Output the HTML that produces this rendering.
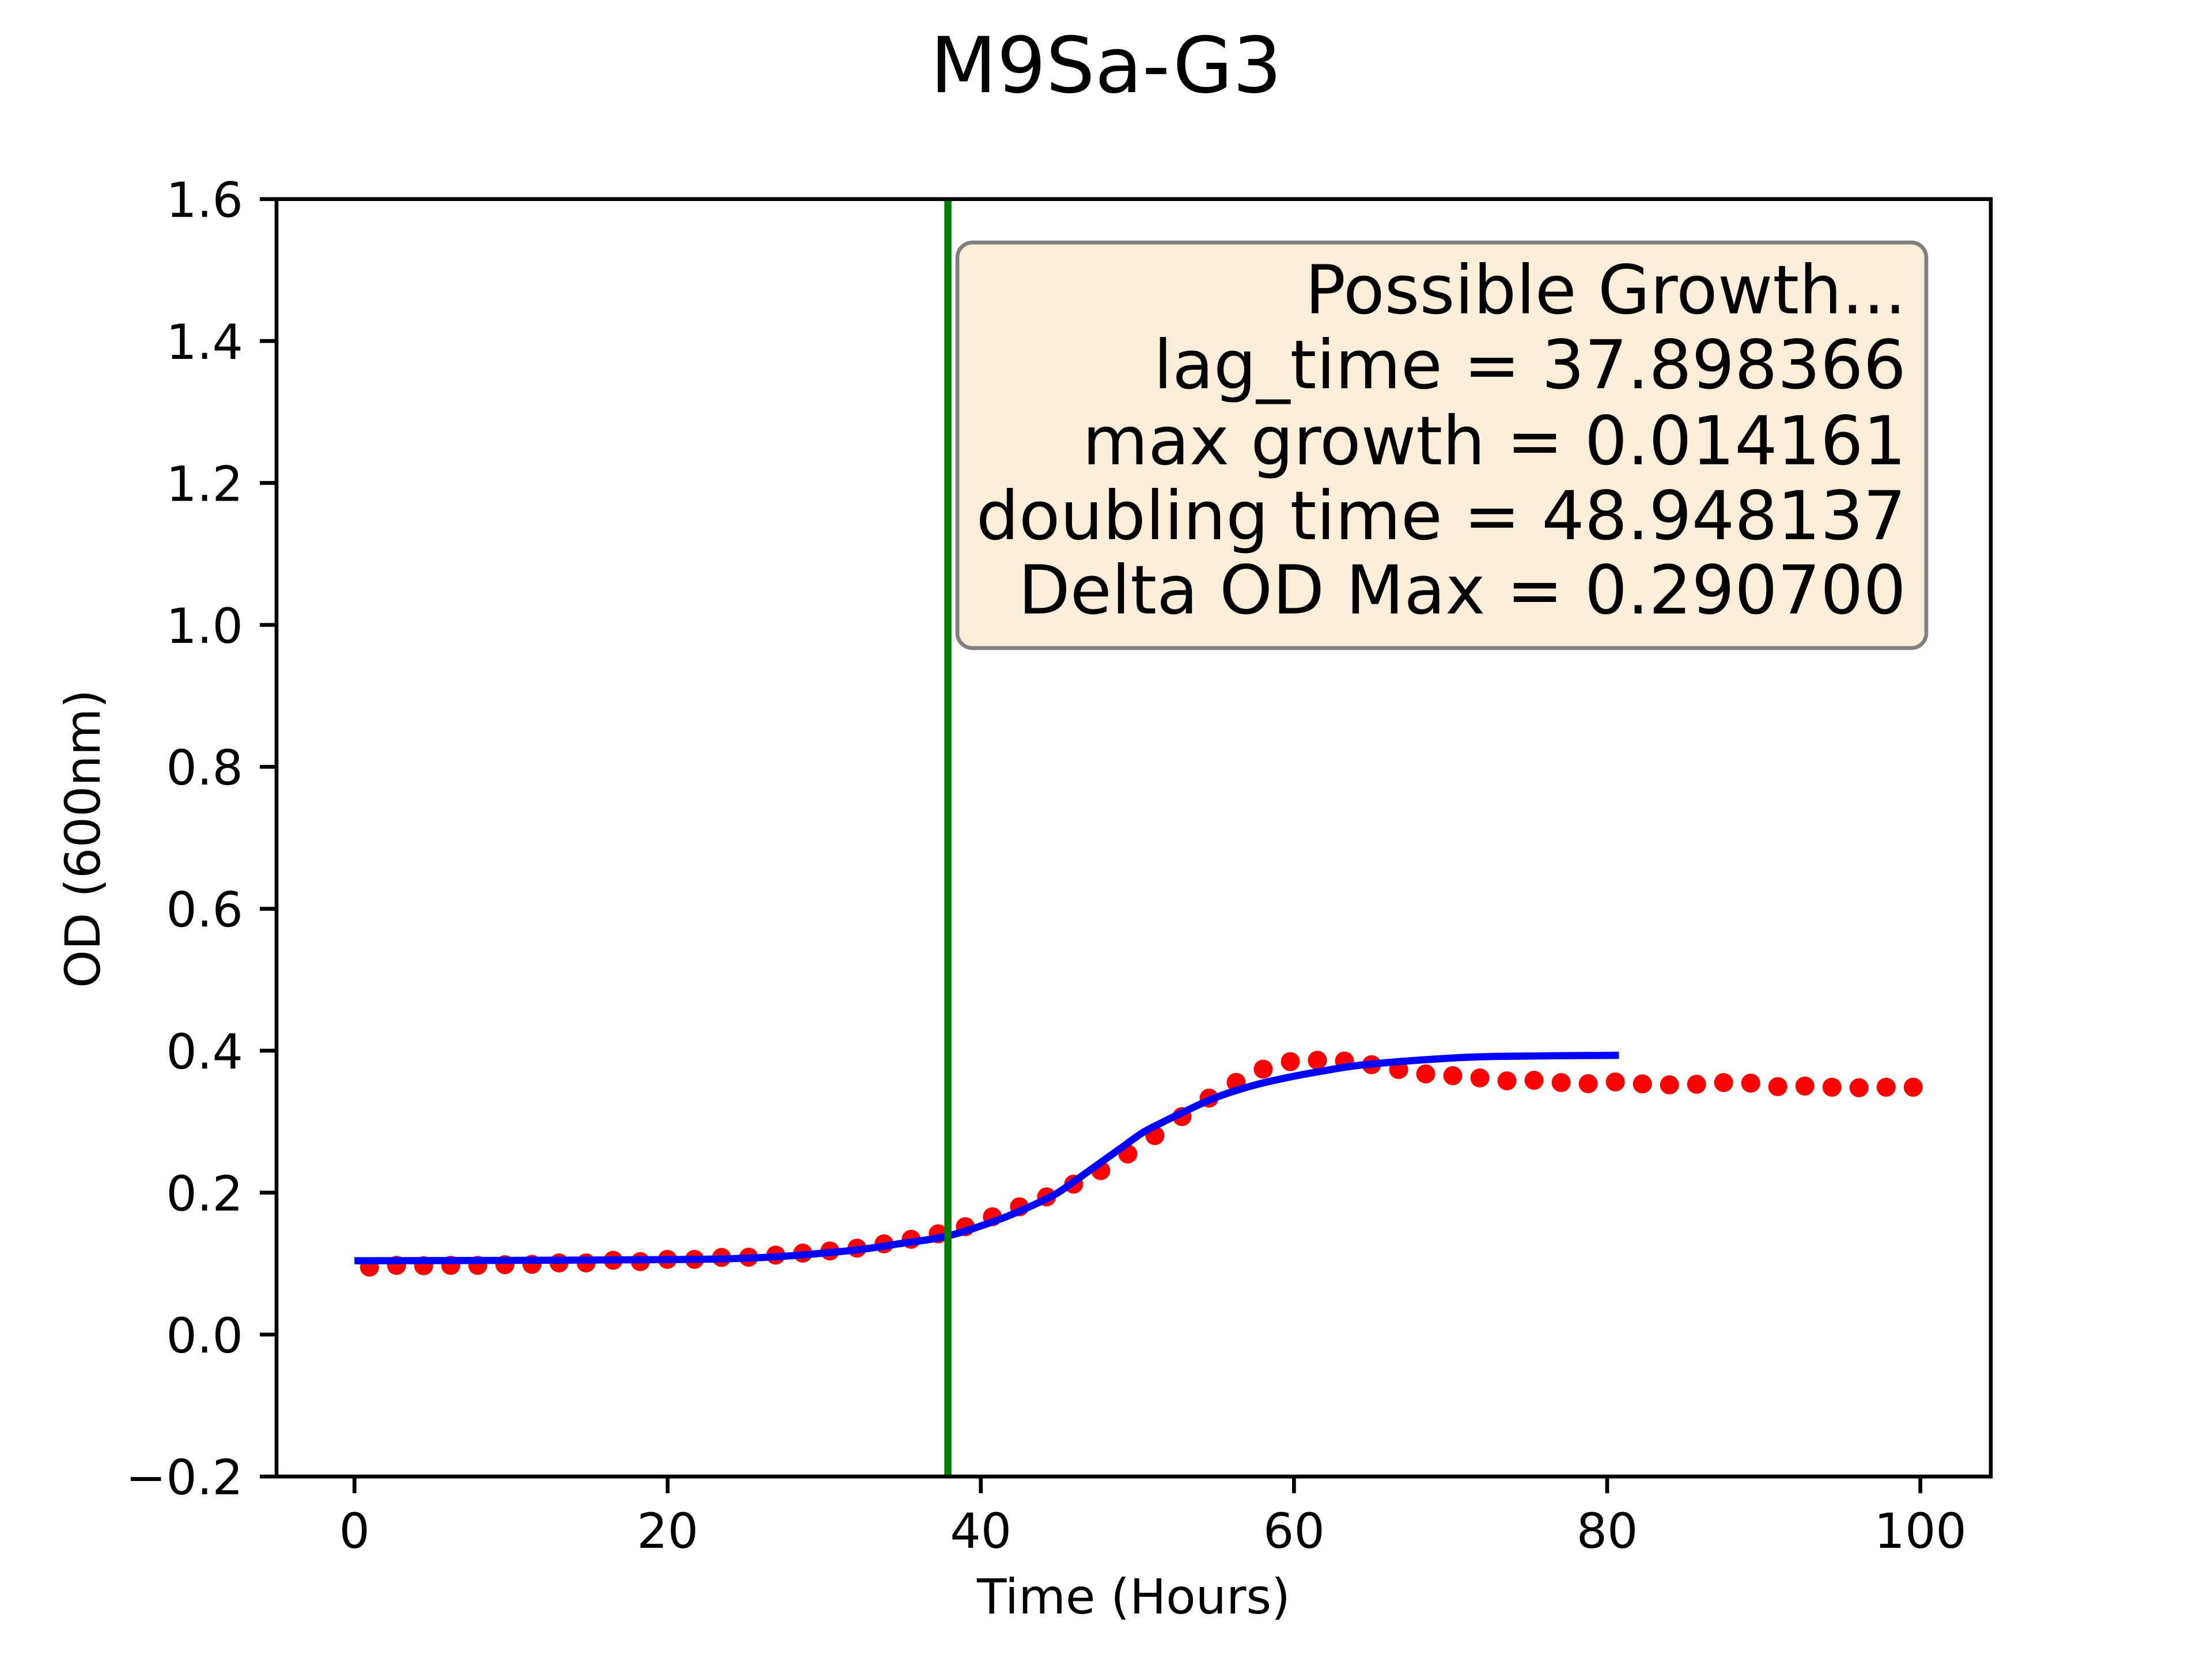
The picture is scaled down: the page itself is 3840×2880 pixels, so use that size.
<!DOCTYPE html>
<html><head><meta charset="utf-8"><style>
html,body{margin:0;padding:0;background:#fff}
svg{display:block}
text{font-family:"DejaVu Sans","Liberation Sans",sans-serif;fill:#000}
</style></head><body>
<svg id="chart" xmlns="http://www.w3.org/2000/svg" width="3840" height="2880" viewBox="0 0 3840 2880">
<rect x="0" y="0" width="3840" height="2880" fill="#fff"/>
<text x="1920" y="160" font-size="134" text-anchor="middle">M9Sa-G3</text>
<g id="plot"></g>
<g id="xticks"></g>
<g id="yticks"></g>
<text x="1968" y="2801" font-size="84" text-anchor="middle">Time (Hours)</text>
<text x="173" y="1456" font-size="84" text-anchor="middle" transform="rotate(-90 173 1456)">OD (600nm)</text>
<g>
<rect x="1662" y="421" width="1682" height="704" rx="26" ry="26" fill="#faeed9" stroke="#808080" stroke-width="6.7"/>
<text x="3309" y="544" font-size="117" text-anchor="end">Possible Growth...</text>
<text x="3309" y="674" font-size="117" text-anchor="end">lag_time = 37.898366</text>
<text x="3309" y="806" font-size="117" text-anchor="end">max growth = 0.014161</text>
<text x="3309" y="936" font-size="117" text-anchor="end">doubling time = 48.948137</text>
<text x="3309" y="1065" font-size="117" text-anchor="end">Delta OD Max = 0.290700</text>
</g>
</svg>
<script>
const odValues = [0.095,0.0975,0.097,0.0975,0.0975,0.0985,0.099,0.101,0.101,0.1047,0.1028,0.106,0.106,0.1087,0.109,0.112,0.1148,0.1178,0.1218,0.1278,0.1343,0.142,0.152,0.166,0.18,0.194,0.212,0.231,0.2545,0.2804,0.3072,0.3332,0.3554,0.374,0.3846,0.3865,0.3854,0.3803,0.3735,0.3673,0.3648,0.3616,0.3575,0.3583,0.3551,0.3535,0.356,0.3532,0.3519,0.3527,0.3551,0.3543,0.3494,0.3502,0.3486,0.3478,0.3486,0.3486];
const firstHour = 0.96;
const hourStep = 1.7296;
const fitHours = [0,15,25,31.5,34.8,37.9,40.9,42.8,44.7,46.1,47.5,48.9,50.3,51.5,52.7,55,57.4,59.7,62,64.4,69.1,73,80.75];
const fitValues = [0.104,0.105,0.1076,0.118,0.128,0.139,0.160,0.177,0.197,0.218,0.240,0.262,0.284,0.298,0.311,0.334,0.351,0.3627,0.372,0.380,0.3883,0.392,0.3935];
const lagTime = 37.898366;
const xTicks = [0,20,40,60,80,100];
const yTicks = [-0.2,0.0,0.2,0.4,0.6,0.8,1.0,1.2,1.4,1.6];
const yTickLabels = ["\u22120.2","0.0","0.2","0.4","0.6","0.8","1.0","1.2","1.4","1.6"];

const L=480,R=3456,T=345.6,B=2563.2;
const XMIN=-4.98,XMAX=104.5,YMIN=-0.2,YMAX=1.6;
const sx=v=>L+(v-XMIN)/(XMAX-XMIN)*(R-L);
const sy=v=>B-(v-YMIN)/(YMAX-YMIN)*(B-T);
const NS="http://www.w3.org/2000/svg";
function mk(tag,attrs,parent){const e=document.createElementNS(NS,tag);for(const k in attrs)e.setAttribute(k,attrs[k]);parent.appendChild(e);return e;}
const plot=document.getElementById('plot');
const xg=document.getElementById('xticks');
const yg=document.getElementById('yticks');

const defs=mk('defs',{},plot);
const cp=mk('clipPath',{id:'clip'},defs);
mk('rect',{x:L,y:T,width:R-L,height:B-T},cp);
const inner=mk('g',{'clip-path':'url(#clip)'},plot);



odValues.forEach((v,i)=>{
  const c=mk('circle',{cx:sx(firstHour+i*hourStep),cy:sy(v),r:16.5,fill:'#ff0000'},inner);
  
  
});

const pts=fitHours.map((h,i)=>[sx(h),sy(fitValues[i])]);
let d='M'+pts[0][0]+','+pts[0][1];
for(let i=0;i<pts.length-1;i++){
  const p0=pts[Math.max(0,i-1)],p1=pts[i],p2=pts[i+1],p3=pts[Math.min(pts.length-1,i+2)];
  const c1=[p1[0]+(p2[0]-p0[0])/6,p1[1]+(p2[1]-p0[1])/6];
  const c2=[p2[0]-(p3[0]-p1[0])/6,p2[1]-(p3[1]-p1[1])/6];
  d+=' C'+c1[0]+','+c1[1]+' '+c2[0]+','+c2[1]+' '+p2[0]+','+p2[1];
}
const fit=mk('path',{d:d,fill:'none',stroke:'#0000ff','stroke-width':12.5},inner);



const lag=mk('line',{x1:sx(lagTime),x2:sx(lagTime),y1:T,y2:B,stroke:'#008000','stroke-width':12.5},inner);



const fr=mk('rect',{x:L,y:T,width:R-L,height:B-T,fill:'none',stroke:'#000','stroke-width':6.7},plot);



xTicks.forEach(t=>{
  const x=sx(t);
  const ln=mk('line',{x1:x,x2:x,y1:B,y2:B+29,stroke:'#000','stroke-width':6.7},xg);
  
  
  const tx=mk('text',{x:x,y:2687,'font-size':84,'text-anchor':'middle'},xg);
  tx.textContent=String(t);
  
  
});
yTicks.forEach((t,i)=>{
  const y=sy(t);
  const ln=mk('line',{x1:L-29,x2:L,y1:y,y2:y,stroke:'#000','stroke-width':6.7},yg);
  
  
  const tx=mk('text',{x:422,y:y+31,'font-size':84,'text-anchor':'end'},yg);
  tx.textContent=yTickLabels[i];
  
  
});
</script>
</body></html>
